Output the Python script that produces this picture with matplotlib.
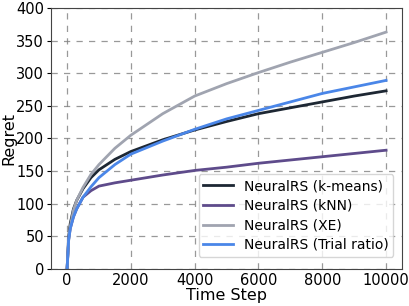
import matplotlib
matplotlib.use("Agg")
import matplotlib.pyplot as plt

# time steps sampled along the curves
steps = [0, 50, 100, 200, 300, 500, 750, 1000, 1500, 2000, 3000, 4000, 5000, 6000, 7000, 8000, 9000, 10000]

kmeans = [0, 50, 70, 92, 105, 123, 140, 152, 168, 180, 198, 213, 226, 238, 247, 256, 265, 273]
knn = [0, 45, 62, 80, 92, 110, 120, 127, 132, 136, 144, 151, 156, 162, 167, 172, 177, 182]
xe = [0, 45, 65, 90, 105, 125, 145, 160, 185, 205, 238, 265, 284, 301, 317, 332, 347, 363]
trial = [0, 45, 62, 80, 92, 110, 126, 140, 160, 176, 196, 214, 230, 243, 256, 269, 279, 289]

labels = ["NeuralRS (k-means)", "NeuralRS (kNN)", "NeuralRS (XE)", "NeuralRS (Trial ratio)"]
colors = ["#1d2733", "#5e4b8b", "#a0a4b0", "#4a86e8"]

fig, ax = plt.subplots(figsize=(4.09, 3.06), dpi=100)
for ys, lab, c in zip([kmeans, knn, xe, trial], labels, colors):
	ax.plot(steps, ys, color=c, lw=2, label=lab)

ax.set_ylim(0, 400)
ax.set_xlim(-500, 10500)
ax.set_xticks([0, 2000, 4000, 6000, 8000, 10000])
ax.set_yticks(range(0, 401, 50))
ax.grid(True, ls=(0, (5, 5)), color="gray", lw=0.9, alpha=0.8)
ax.tick_params(axis="x", labelsize=10.5, length=0, pad=3)
ax.tick_params(axis="y", labelsize=10.5, length=3, pad=2)
for s in ax.spines.values():
	s.set_color("#444444")
ax.set_xlabel("Time Step", fontsize=11.5, labelpad=0)
ax.set_ylabel("Regret", fontsize=11.5, labelpad=0)
ax.legend(loc="lower right", fontsize=10, handlelength=2.1, borderpad=0.35,
	labelspacing=0.4, bbox_to_anchor=(0.995, 0.02))

fig.subplots_adjust(left=0.125, right=0.983, top=0.974, bottom=0.121)
fig.savefig("out.png")
